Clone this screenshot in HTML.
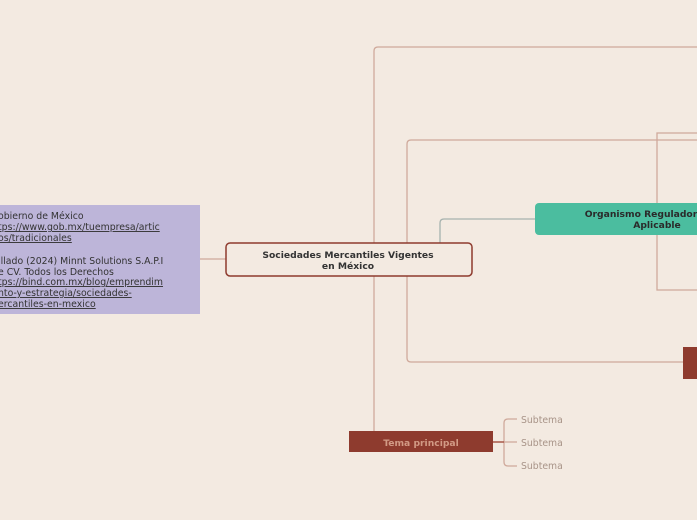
<!DOCTYPE html>
<html><head><meta charset="utf-8"><style>
html,body{margin:0;padding:0;width:697px;height:520px;overflow:hidden;background:#f3eae1;}
svg{display:block;font-family:"DejaVu Sans","Liberation Sans",sans-serif;}
</style></head><body>
<svg width="697" height="520" viewBox="0 0 697 520">
<rect width="697" height="520" fill="#f3eae1"/>
<g fill="none" stroke="#cfa99b" stroke-width="1.3">
<path d="M374 431 V51 Q374 47 378 47 H697"/>
<path d="M407 243 V144 Q407 140 411 140 H697"/>
<path d="M407 276 V358 Q407 362 411 362 H683"/>
<path d="M657 205 V133 H697"/>
<path d="M657 235 V290 H697"/>
<path d="M200 259 H226"/>
</g>
<path d="M440 243 V223 Q440 219 444 219 H535" fill="none" stroke="#a6b2ae" stroke-width="1.3"/>
<g fill="none" stroke="#cfa99b" stroke-width="1.3">
<path d="M517 419 H508 Q504 419 504 423 V462 Q504 466 508 466 H517"/>
<path d="M504 442 H517"/>
</g>
<path d="M493 442 H504" stroke="#a85848" stroke-width="1.5"/>
<rect x="0" y="205" width="200" height="109" fill="#bdb5d9"/>
<g font-size="9.35" fill="#333">
<text x="-2" y="219">obierno de México</text>
<text x="-2" y="230" text-decoration="underline">tps://www.gob.mx/tuempresa/artic</text>
<text x="-2" y="241" text-decoration="underline">os/tradicionales</text>
<text x="-2" y="264">illado (2024) Minnt Solutions S.A.P.I</text>
<text x="-2" y="275">e CV. Todos los Derechos</text>
<text x="-2" y="285" text-decoration="underline">tps://bind.com.mx/blog/emprendim</text>
<text x="-2" y="296" text-decoration="underline">nto-y-estrategia/sociedades-</text>
<text x="-2" y="307" text-decoration="underline">ercantiles-en-mexico</text>
</g>
<rect x="226" y="243" width="246" height="33" rx="4" fill="#f3eae1" stroke="#8e3b2e" stroke-width="1.5"/>
<g font-size="9.2" font-weight="bold" fill="#333" text-anchor="middle">
<text x="348" y="258">Sociedades Mercantiles Vigentes</text>
<text x="348" y="269">en México</text>
</g>
<rect x="535" y="203" width="175" height="32" rx="4" fill="#4bbd9f"/>
<g font-size="9.2" font-weight="bold" fill="#2a2a2a" text-anchor="middle">
<text x="641" y="217">Organismo Regulador</text>
<text x="657" y="228">Aplicable</text>
</g>
<rect x="683" y="347" width="14" height="32" fill="#8e3b2e"/>
<rect x="349" y="431" width="144" height="21" fill="#8e3b2e"/>
<text x="421" y="446" font-size="9.2" font-weight="bold" fill="#d29a85" text-anchor="middle">Tema principal</text>
<g font-size="9.3" fill="#a89488">
<text x="521" y="423">Subtema</text>
<text x="521" y="446">Subtema</text>
<text x="521" y="469">Subtema</text>
</g>
</svg>
</body></html>
